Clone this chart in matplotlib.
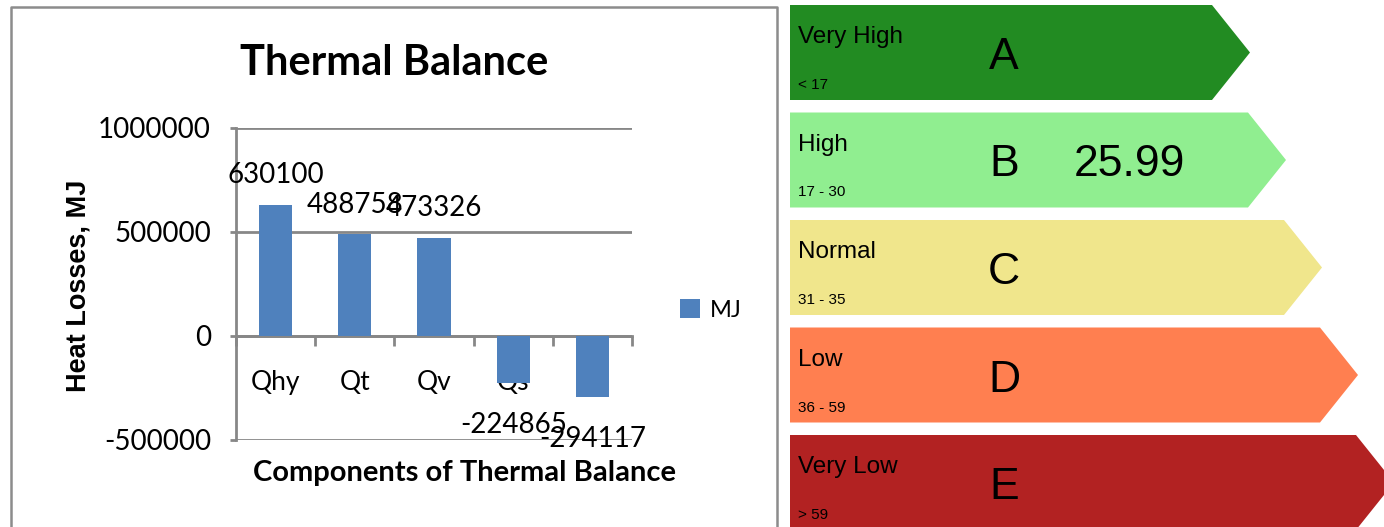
import matplotlib.pyplot as plt
from matplotlib.patches import Polygon

# bar chart data
categories = ['Qhy', 'Qt', 'Qv', 'Qs', 'Qi']
values = [630100, 488758, 473326, -224865, -294117]
series_name = 'MJ'
y_ticks = [-500000, 0, 500000, 1000000]

# energy rating bands
band_labels = ['Very High', 'High', 'Normal', 'Low', 'Very Low']
band_ranges = ['< 17', '17 - 30', '31 - 35', '36 - 59', '> 59']
band_letters = ['A', 'B', 'C', 'D', 'E']
band_colors = ['#228B22', '#90EE90', '#F0E68C', '#FF7F50', '#B22222']
score = '25.99'
score_band = 1

W, H = 1384, 527
fig = plt.figure(figsize=(W / 100, H / 100), dpi=100)

# overlay in pixel coordinates for the frame and the rating arrows
ov = fig.add_axes([0, 0, 1, 1])
ov.set_xlim(0, W)
ov.set_ylim(H, 0)
ov.axis('off')
ov.plot([11, 11, 777, 777], [540, 6.5, 6.5, 540], color='#8c8c8c', lw=1.8)

narrow = ['Liberation Sans Narrow', 'Liberation Sans']
for i, (lab, rng, let, col) in enumerate(zip(band_labels, band_ranges, band_letters, band_colors)):
    t = 5 + 107.5 * i
    b = t + 95
    r = 1212 + 36 * i
    ov.add_patch(Polygon([(790, t), (r, t), (r + 38, (t + b) / 2), (r, b), (790, b)],
                         closed=True, facecolor=col, edgecolor='none'))
    ov.text(798, t + 38, lab, fontsize=17.5, family=narrow, va='baseline', ha='left')
    ov.text(798, t + 84, rng, fontsize=11, family=narrow, va='baseline', ha='left')
    ov.text(1004, t + 64, let, fontsize=32, family=narrow, va='baseline', ha='center')
    if i == score_band:
        ov.text(1129.5, t + 63, score, fontsize=32, family=narrow, va='baseline', ha='center')

# bar chart
ax = fig.add_axes([236 / W, 1 - 440 / H, 396 / W, 312 / H])
x = list(range(len(categories)))
bars = ax.bar(x, values, width=0.42, color='#4F81BD', zorder=3, label=series_name)
ax.set_xlim(-0.5, len(categories) - 0.5)
ax.set_ylim(y_ticks[0], y_ticks[-1])
ax.set_axisbelow(True)
ax.yaxis.grid(True, color='#878787', lw=2)

grey = '#878787'
for s in ['top', 'right']:
    ax.spines[s].set_visible(False)
ax.spines['left'].set_color(grey)
ax.spines['left'].set_linewidth(2)
ax.spines['bottom'].set_position(('data', 0))
ax.spines['bottom'].set_color(grey)
ax.spines['bottom'].set_linewidth(2)

ax.set_yticks(y_ticks, labels=[str(v) for v in y_ticks])
ax.tick_params(axis='y', direction='out', length=4.5, width=2, color=grey,
               labelsize=20, pad=13.5)
for lbl in ax.get_yticklabels():
    lbl.set_family('Lato')

ax.set_xticks([i - 0.5 for i in range(len(categories) + 1)], labels=[''] * (len(categories) + 1))
ax.set_xticks(x, labels=categories, minor=True)
ax.tick_params(axis='x', which='major', direction='out', length=7.5, width=2, color=grey)
ax.tick_params(axis='x', which='minor', length=0, pad=24.5, labelsize=19)
for lbl in ax.get_xticklabels(minor=True):
    lbl.set_family('Lato')

for rect, v in zip(bars, values):
    cx = rect.get_x() + rect.get_width() / 2
    if v >= 0:
        ax.annotate(str(v), (cx, v), xytext=(0, 12), textcoords='offset points',
                    ha='center', va='bottom', fontsize=20, family='Lato')
    else:
        ax.annotate(str(v), (cx, v), xytext=(0, -21), textcoords='offset points',
                    ha='center', va='top', fontsize=20, family='Lato')

ax.set_ylabel('Heat Losses, MJ', fontsize=19.5, fontweight='bold', family='Liberation Sans')
ax.yaxis.set_label_coords(-0.366, 0.4936)
ax.set_xlabel('Components of Thermal Balance', fontsize=21, fontweight='bold',
              family='Lato', va='baseline')
ax.xaxis.set_label_coords(0.5758, -0.1314)

fig.text(394 / W, 1 - 75 / H, 'Thermal Balance', ha='center', va='baseline',
         fontsize=30, fontweight='bold', family='Lato')

leg = fig.legend(handles=[bars], labels=[series_name], loc='center left',
                 bbox_to_anchor=(680 / W, 1 - 310 / H), frameon=False,
                 borderpad=0, borderaxespad=0, handlelength=0.85, handleheight=0.85,
                 handletextpad=0.4, prop={'family': 'Lato', 'size': 17})

fig.savefig('out.png', dpi=100)
